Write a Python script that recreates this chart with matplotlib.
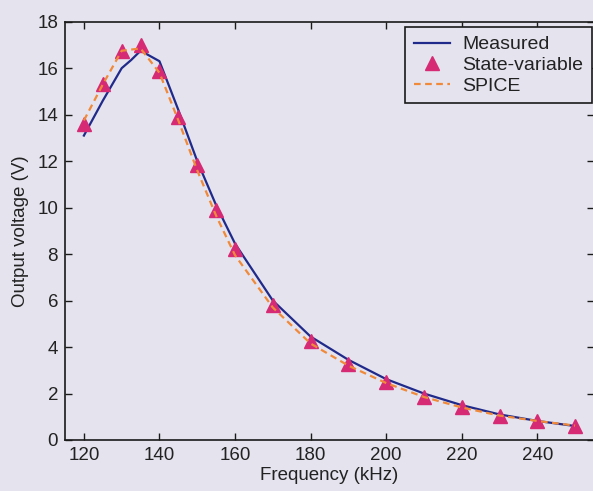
import numpy as np
import matplotlib
matplotlib.use("Agg")
import matplotlib.pyplot as plt

# measured response (kHz, V)
freq_meas = [120, 125, 130, 132.5, 135, 140, 145, 150, 155, 160, 170, 180, 190, 200, 210, 220, 230, 240, 250]
volt_meas = [13.1, 14.6, 16.0, 16.35, 16.75, 16.3, 14.2, 12.0, 10.1, 8.45, 6.0, 4.45, 3.45, 2.62, 2.0, 1.5, 1.1, 0.82, 0.6]

# state-variable model
freq_sv = [120, 125, 130, 135, 140, 145, 150, 155, 160, 170, 180, 190, 200, 210, 220, 230, 240, 250]
volt_sv = [13.6, 15.3, 16.75, 17.0, 15.9, 13.9, 11.85, 9.9, 8.2, 5.82, 4.25, 3.27, 2.48, 1.87, 1.4, 1.03, 0.8, 0.6]

# SPICE simulation
freq_spice = [120, 125, 130, 135, 140, 145, 150, 155, 160, 170, 180, 190, 200, 210, 220, 230, 240, 250]
volt_spice = [13.75, 15.3, 16.75, 16.85, 15.8, 13.75, 11.6, 9.65, 7.95, 5.7, 4.15, 3.2, 2.45, 1.85, 1.4, 1.05, 0.82, 0.62]

bg = '#e5e3ee'
plt.rcParams['font.family'] = ['Liberation Sans', 'DejaVu Sans']
plt.rcParams['font.size'] = 13.5

fig = plt.figure(figsize=(5.93, 4.91), dpi=100, facecolor=bg)
ax = fig.add_axes([65 / 593, 51 / 491, 529 / 593, 418.3 / 491])
ax.set_facecolor(bg)

ax.plot(freq_meas, volt_meas, color='#1f2a8a', linewidth=1.6, label='Measured')
ax.plot(freq_sv, volt_sv, linestyle='none', marker='^', markersize=9.5,
        color='#d62a74', label='State-variable')
ax.plot(freq_spice, volt_spice, color='#f08a3a', linewidth=1.6,
        linestyle=(0, (3, 2)), label='SPICE')

ax.set_xlim(115, 255)
ax.set_ylim(0, 18)
ax.set_xticks(np.arange(120, 241, 20))
ax.set_yticks(np.arange(0, 19, 2))
ax.tick_params(direction='in', top=True, right=True, length=5, width=1,
               colors='#1a1a1a', labelcolor='#222222', pad=5)
for s in ax.spines.values():
    s.set_color('#1a1a1a')
    s.set_linewidth(1.2)

ax.set_xlabel('Frequency (kHz)', color='#222222', labelpad=2)
ax.set_ylabel('Output voltage (V)', color='#222222', labelpad=6)

leg = ax.legend(loc='upper right', bbox_to_anchor=(0.996, 0.987), borderaxespad=0,
                fancybox=False, framealpha=1, facecolor=bg, edgecolor='#1a1a1a',
                handlelength=1.9, handletextpad=0.6, labelspacing=0.15,
                borderpad=0.45, fontsize=14)
leg.get_frame().set_linewidth(1.2)
for t in leg.get_texts():
    t.set_color('#222222')

fig.savefig('out.png', dpi=100, facecolor=bg)
